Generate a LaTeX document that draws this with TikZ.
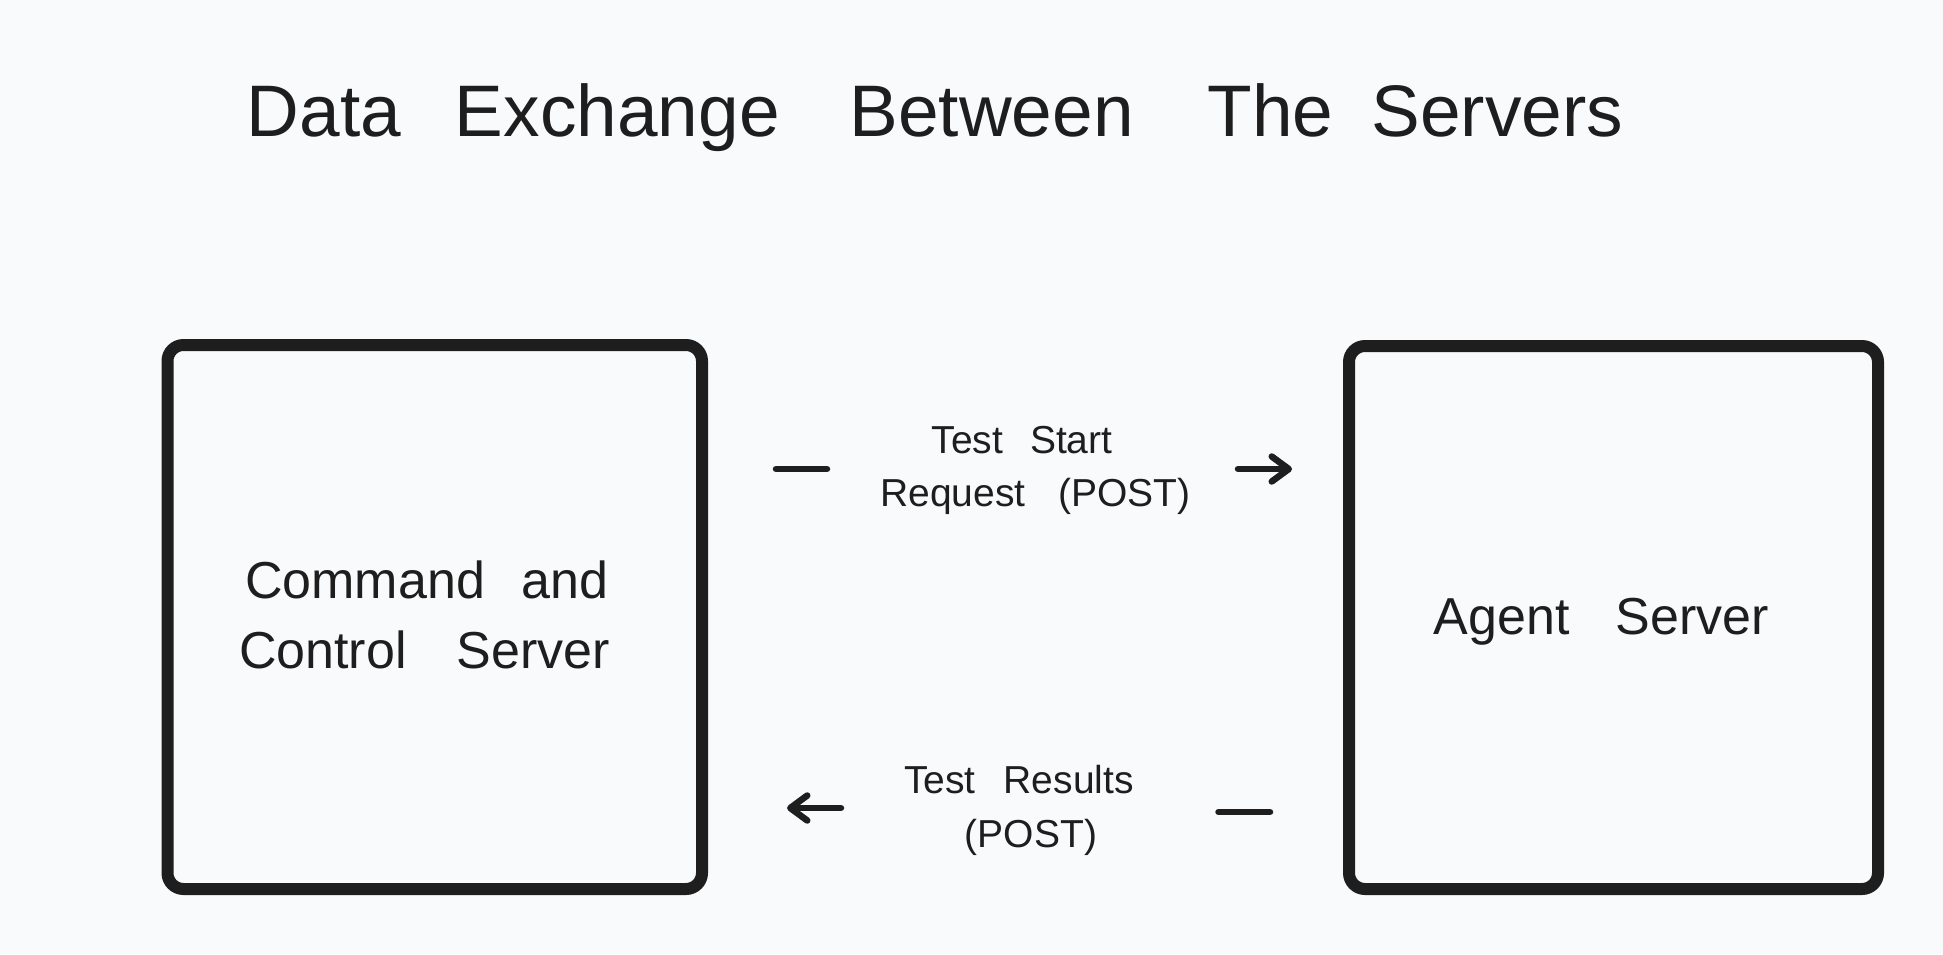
\documentclass[tikz,border=0pt]{standalone}
\usepackage{fontspec}
\setmainfont{Liberation Sans}
\usetikzlibrary{arrows.meta}
\definecolor{bgc}{RGB}{249,250,251}
\definecolor{ink}{RGB}{30,30,30}
\begin{document}
\begin{tikzpicture}[x=1pt,y=-1pt,
  server/.style={draw=ink, line width=12pt, rounded corners=16pt, inner sep=0pt, outer sep=0pt},
  conn/.style={draw=ink, line width=6.5pt, line cap=round, line join=round},
  tip/.style={-{Straight Barb[length=17pt,width=25pt,round]}},
  lbl/.style={text=ink, font=\fontsize{39}{47}\selectfont, inner sep=0pt, anchor=base},
  boxtxt/.style={text=ink, font=\fontsize{52}{62}\selectfont, inner sep=0pt, anchor=base},
  ttl/.style={text=ink, font=\fontsize{73}{88}\selectfont, inner sep=0pt, anchor=base}]
\fill[bgc] (0,0) rectangle (1943,954);
\useasboundingbox (0,0) rectangle (1943,954);

% title
\node[ttl] (title) at (935,136) {Data\hspace{54pt}Exchange\hspace{70pt}Between\hspace{74pt}The\hspace{38pt}Servers};

% servers
\node[server, minimum width=534.5pt, minimum height=544pt] (cc) at (434.75,617) {};
\node[server, minimum width=529pt, minimum height=543pt] (agent) at (1613.5,617.5) {};
\node[boxtxt] (cct1) at (427,598.6) {Command\hspace{37pt}and};
\node[boxtxt] (cct2) at (424.5,668) {Control\hspace{50pt}Server};
\node[boxtxt] (agt) at (1601.5,634) {Agent\hspace{46pt}Server};

% top connector: request
\coordinate (r1) at (776,469);
\coordinate (r2) at (827,469);
\coordinate (r3) at (1238,469);
\coordinate (r4) at (1292,469);
\draw[conn] (r1) -- (r2);
\draw[conn, tip] (r3) -- (r4);
\node[lbl] (l1a) at (1022,453) {Test\hspace{27pt}Start};
\node[lbl] (l1b) at (1035.5,506) {Request\hspace{33pt}(POST)};

% bottom connector: results
\coordinate (b1) at (841,808);
\coordinate (b2) at (787,808);
\coordinate (b3) at (1218.5,812);
\coordinate (b4) at (1270,812);
\draw[conn, tip] (b1) -- (b2);
\draw[conn] (b3) -- (b4);
\node[lbl] (l2a) at (1019,793) {Test\hspace{28pt}Results};
\node[lbl] (l2b) at (1031,847) {(POST)};
\end{tikzpicture}
\end{document}
